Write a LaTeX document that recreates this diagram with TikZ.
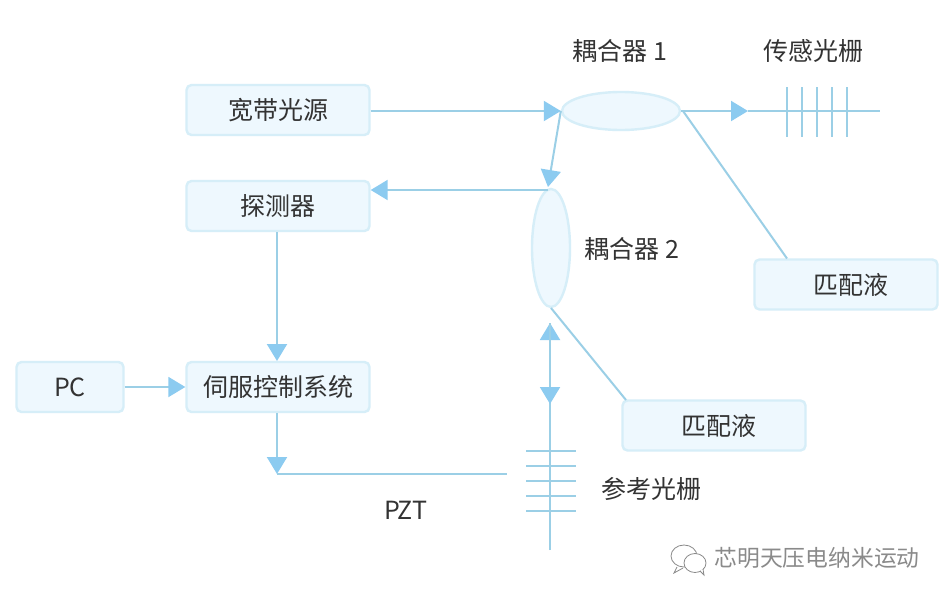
\documentclass[tikz,border=0pt]{standalone}
\usepackage{fontspec}
\usetikzlibrary{arrows.meta,shapes.geometric}
\setmainfont{Noto Sans CJK SC}
\definecolor{boxfill}{HTML}{EEF8FE}
\definecolor{boxline}{HTML}{D6EEF8}
\definecolor{wire}{HTML}{9BCFE6}
\definecolor{tip}{HTML}{8CCBF0}
\definecolor{ink}{HTML}{333333}
\definecolor{mark}{HTML}{8A8A8A}
\tikzset{
  box/.style={draw=boxline,fill=boxfill,line width=2.4pt,rounded corners=5pt,minimum height=50pt,inner sep=0pt,text=ink,font=\fontsize{25}{29}\selectfont},
  widebox/.style={box,minimum width=183pt},
  narrowbox/.style={box,minimum width=107pt},
  coupler/.style={draw=boxline,fill=boxfill,line width=2.4pt,ellipse,inner sep=0pt},
  wireline/.style={draw=wire,line width=2pt},
  arrowline/.style={wireline,-{Triangle[length=17pt,width=20pt,fill=tip,color=tip]}},
  lbl/.style={text=ink,inner sep=0pt,font=\fontsize{25}{29}\selectfont},
  wmark/.style={text=mark,inner sep=0pt,font=\fontsize{22.8}{26}\selectfont},
  icon/.style={draw=mark,fill=white,line width=0.8pt}
}
\begin{document}
\begin{tikzpicture}[x=1pt,y=-1pt]
\useasboundingbox[fill=white] (0,0) rectangle (950,600);
% boxes
\node[widebox] (src) at (278,110) {宽带光源};
\node[widebox] (det) at (278,206) {探测器};
\node[widebox] (servo) at (278,387) {伺服控制系统};
\node[narrowbox] (pc) at (70,387) {PC};
\node[widebox] (m1) at (846,284.5) {\hspace*{10pt}匹配液};
\node[widebox] (m2) at (714,425.5) {\hspace*{10pt}匹配液};
\node[coupler,minimum width=118pt,minimum height=38pt] (c1) at (621,111) {};
\node[coupler,minimum width=38pt,minimum height=118pt] (c2) at (551,248) {};
% labels
\node[lbl] (l1) at (620,51) {耦合器 1};
\node[lbl] (l2) at (813,51) {传感光栅};
\node[lbl] (l3) at (632,249) {耦合器 2};
\node[lbl] (l4) at (651,489) {参考光栅};
\node[lbl] (l5) at (406,510) {PZT};
% free ends
\coordinate (t1) at (748,111);
\coordinate (e1) at (880,111);
\coordinate (c1b) at (548,187);
\coordinate (c2t) at (548,190);
\coordinate (m1t) at (787,258.5);
\coordinate (c1r) at (683,111);
\coordinate (s1) at (277,474);
\coordinate (s2) at (507,474);
\coordinate (u1) at (550,323);
\coordinate (d1) at (550,404);
\coordinate (e2) at (550,550);
\coordinate (c2b) at (551,308);
\coordinate (m2t) at (626,400);
\coordinate (dett) at (277,232);
\coordinate (serb) at (277,413);
\coordinate (sert) at (277,361);
% connectors
\draw[arrowline] (src.east |- c1.west) -- (c1.west);
\draw[arrowline] (c1.east) -- (t1);
\draw[wireline] (t1) -- (e1);
\draw[arrowline] (c1.west) -- (c1b);
\draw[arrowline] (c2t) -- (det.east |- c2t);
\draw[wireline] (c1r) -- (m1t);
\draw[arrowline] (dett) -- (sert);
\draw[arrowline] (pc.east) -- (servo.west);
\draw[arrowline] (serb) -- (s1);
\draw[wireline] (s1) -- (s2);
\draw[arrowline] (e2) -- (u1);
\draw[arrowline] (u1) -- (d1);
\draw[wireline] (c2b) -- (m2t);
% sensing grating
\foreach \x in {787,802,817,832,847} \draw[wireline] (\x,87) -- (\x,137);
% reference grating
\foreach \y in {451,466,481,496,511} \draw[wireline] (526,\y) -- (576,\y);
% watermark
\node[wmark] (wm) at (817,558) {芯明天压电纳米运动};
\draw[icon] (684,556) ellipse (13pt and 11pt);
\draw[icon] (677,567) -- (674,573) -- (683,568);
\draw[icon] (695,563) ellipse (11pt and 9.5pt);
\draw[icon] (700,571) -- (704,575) -- (703,569);
\end{tikzpicture}
\end{document}
